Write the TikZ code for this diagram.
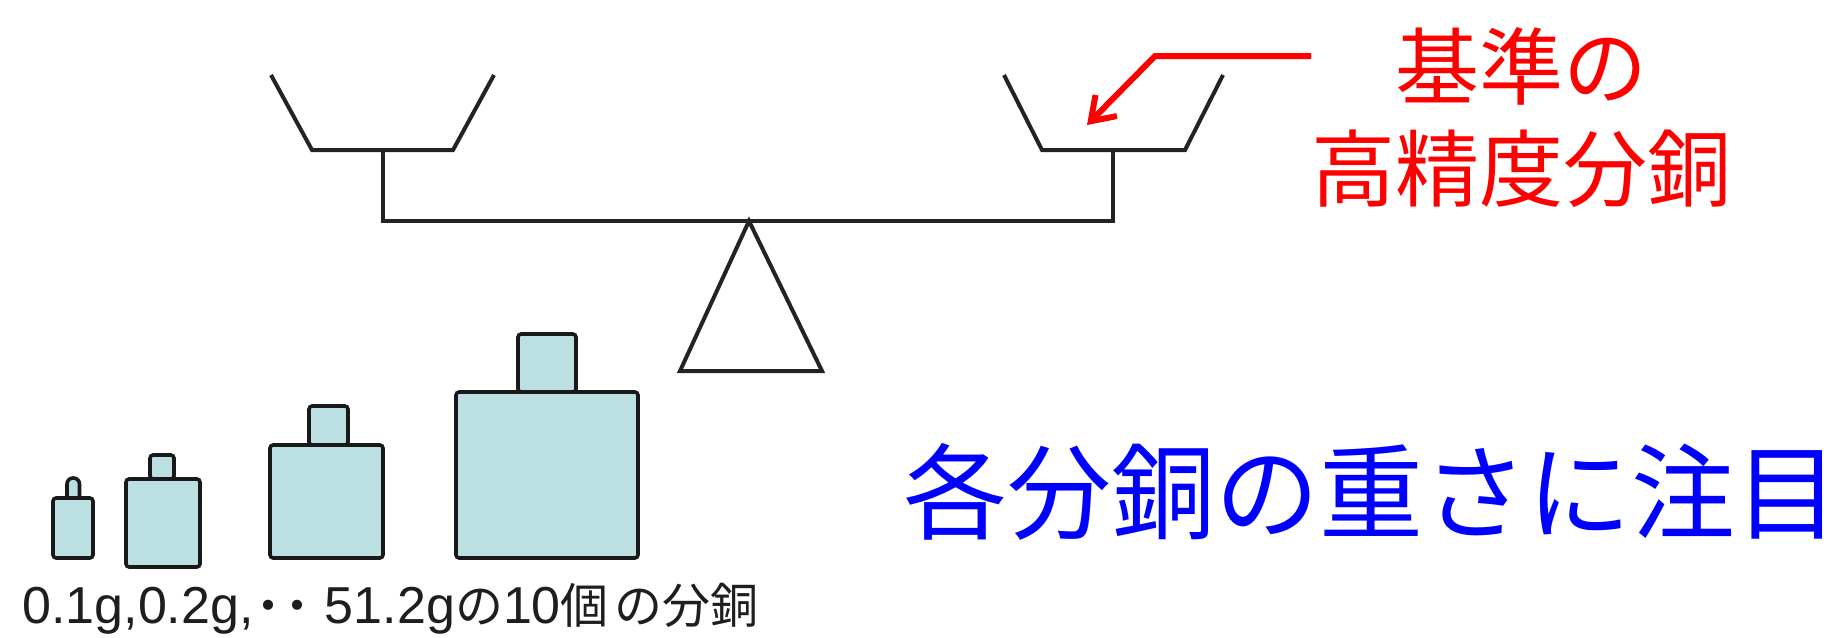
\documentclass[tikz,border=0pt]{standalone}
\usepackage{fontspec}
\newfontfamily\cjk{Noto Sans CJK JP}
\newfontfamily\latin{Liberation Sans}
\usetikzlibrary{arrows.meta}
\definecolor{weightfill}{RGB}{188,224,226}
\definecolor{inkline}{RGB}{35,35,35}
\definecolor{labelink}{RGB}{30,30,30}
\newcommand{\jsmall}{\cjk\fontsize{24pt}{28pt}\selectfont}

\begin{document}
\begin{tikzpicture}[x=0.5pt,y=-0.5pt,
  balance/.style={draw=inkline,line width=2pt,line join=miter},
  weight/.style={draw=black!90,line width=1.8pt,fill=weightfill,rounded corners=1.6pt},
  pointer/.style={draw=red,line width=3pt,line join=miter,
    -{Straight Barb[length=11pt,width=15pt,line width=3pt]}},
  redlabel/.style={text=red,inner sep=0pt,align=center,
    font=\cjk\fontsize{42pt}{51pt}\selectfont},
  bluelabel/.style={text=blue,inner sep=0pt,
    font=\cjk\fontsize{52pt}{60pt}\selectfont},
  smalllabel/.style={text=labelink,inner sep=0pt,anchor=base west}
]
\useasboundingbox (0,0) rectangle (1846,637);

% pans
\draw[balance] (271,75) -- (312,150) -- (453,150) -- (494,75);
\draw[balance] (1004,75) -- (1042,150) -- (1185,150) -- (1223,75);
% stems and beam
\draw[balance] (383,150) -- (383,221) -- (1113,221) -- (1113,150);
% fulcrum
\draw[balance] (749,221) -- (822,371) -- (680,371) -- cycle;

% weights: knob first, then body over it
\draw[weight,rounded corners=3pt] (67,502) rectangle (79.5,478);
\draw[weight] (53,498) rectangle (93,558);
\draw[weight] (150,479) rectangle (174,455);
\draw[weight] (126,479) rectangle (200,567);
\draw[weight] (309,445) rectangle (348,406);
\draw[weight] (270,445) rectangle (383,558);
\draw[weight] (518,392) rectangle (576,334);
\draw[weight] (456,392) rectangle (638,558);

% pointer to the reference weight
\coordinate (ptrstart) at (1311,56);
\coordinate (ptrbend) at (1155,56);
\coordinate (ptrtip) at (1087,125);
\draw[pointer] (ptrstart) -- (ptrbend) -- (ptrtip);

% labels
\node[redlabel] (reflabel) at (1521,118) {基準の\\高精度分銅};
\node[bluelabel] (focus) at (1371,492) {各分銅の重さに注目};
\node[smalllabel] (weights) at (22,623) {\latin\fontsize{26pt}{30pt}\selectfont
  0.1g,0.2g,{\jsmall\kern-4.4pt・\kern-9.5pt・\kern1.5pt}51.2g{\jsmall の}10{\jsmall 個\kern3pt の分銅}};
\end{tikzpicture}
\end{document}
